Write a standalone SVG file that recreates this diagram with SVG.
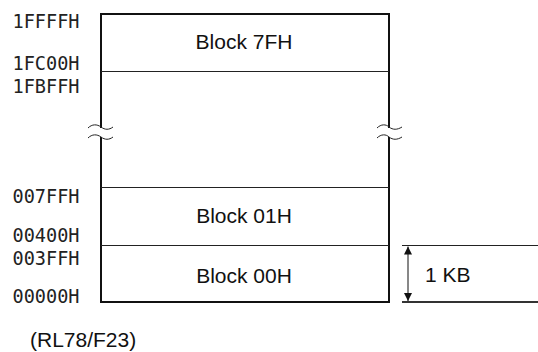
<svg xmlns="http://www.w3.org/2000/svg" width="538" height="352" viewBox="0 0 538 352">
<style>
.addr{font-family:"DejaVu Sans Mono","Liberation Mono",monospace;font-size:19px;fill:#222}
.lbl{font-family:"Liberation Sans",Arial,sans-serif;font-size:21px;fill:#111}
.thin{stroke:#222;stroke-width:1;fill:none}
.thick{stroke:#111;stroke-width:2;fill:none}
</style>
<defs>
<marker id="ah" viewBox="0 0 8 12" refX="8" refY="6" markerWidth="8" markerHeight="12" markerUnits="userSpaceOnUse" orient="auto-start-reverse">
<path d="M0,2 L8,6 L0,10 Z" fill="#111"/>
</marker>
</defs>
<rect width="538" height="352" fill="#fff"/>
<g id="memory-box">
<path class="thick" d="M101,128 V14 H389 V128 M101,137 V302 H389 V137"/>
<path class="thin" d="M88,128 C92,124 97,124 101,127 C105,130 109,130 113,127 M88,138 C92,134 97,134 101,137 C105,140 109,140 113,137"/>
<path class="thin" d="M377,128 C381,124 386,124 389,127 C393,130 397,130 402,127 M377,138 C381,134 386,134 389,137 C393,140 397,140 402,137"/>
</g>
<g id="block-7fh">
<line class="thin" x1="101" y1="71.5" x2="389" y2="71.5"/>
<text class="lbl" x="244" y="48.5" text-anchor="middle">Block 7FH</text>
</g>
<g id="block-01h">
<line class="thin" x1="101" y1="187.5" x2="389" y2="187.5"/>
<text class="lbl" x="244" y="223" text-anchor="middle">Block 01H</text>
</g>
<g id="block-00h">
<line class="thin" x1="101" y1="245.5" x2="389" y2="245.5"/>
<text class="lbl" x="244" y="282.5" text-anchor="middle">Block 00H</text>
</g>
<g id="addresses">
<text class="addr" x="12.5" y="28" textLength="67" lengthAdjust="spacingAndGlyphs">1FFFFH</text>
<text class="addr" x="12.5" y="70" textLength="67" lengthAdjust="spacingAndGlyphs">1FC00H</text>
<text class="addr" x="12.5" y="93" textLength="67" lengthAdjust="spacingAndGlyphs">1FBFFH</text>
<text class="addr" x="12.5" y="203" textLength="67" lengthAdjust="spacingAndGlyphs">007FFH</text>
<text class="addr" x="12.5" y="241.5" textLength="67" lengthAdjust="spacingAndGlyphs">00400H</text>
<text class="addr" x="12.5" y="264.5" textLength="67" lengthAdjust="spacingAndGlyphs">003FFH</text>
<text class="addr" x="12.5" y="303" textLength="67" lengthAdjust="spacingAndGlyphs">00000H</text>
</g>
<g id="connectors">
<line class="thin" x1="402" y1="245.5" x2="538" y2="245.5"/>
<line x1="402" y1="302" x2="538" y2="302" stroke="#333" stroke-width="2"/>
<line x1="408" y1="246.5" x2="408" y2="301" stroke="#111" stroke-width="1" marker-start="url(#ah)" marker-end="url(#ah)"/>
</g>
<g id="size-label">
<text class="lbl" x="425" y="281.5">1 KB</text>
</g>
<text class="lbl" x="30" y="346.5">(RL78/F23)</text>
</svg>
